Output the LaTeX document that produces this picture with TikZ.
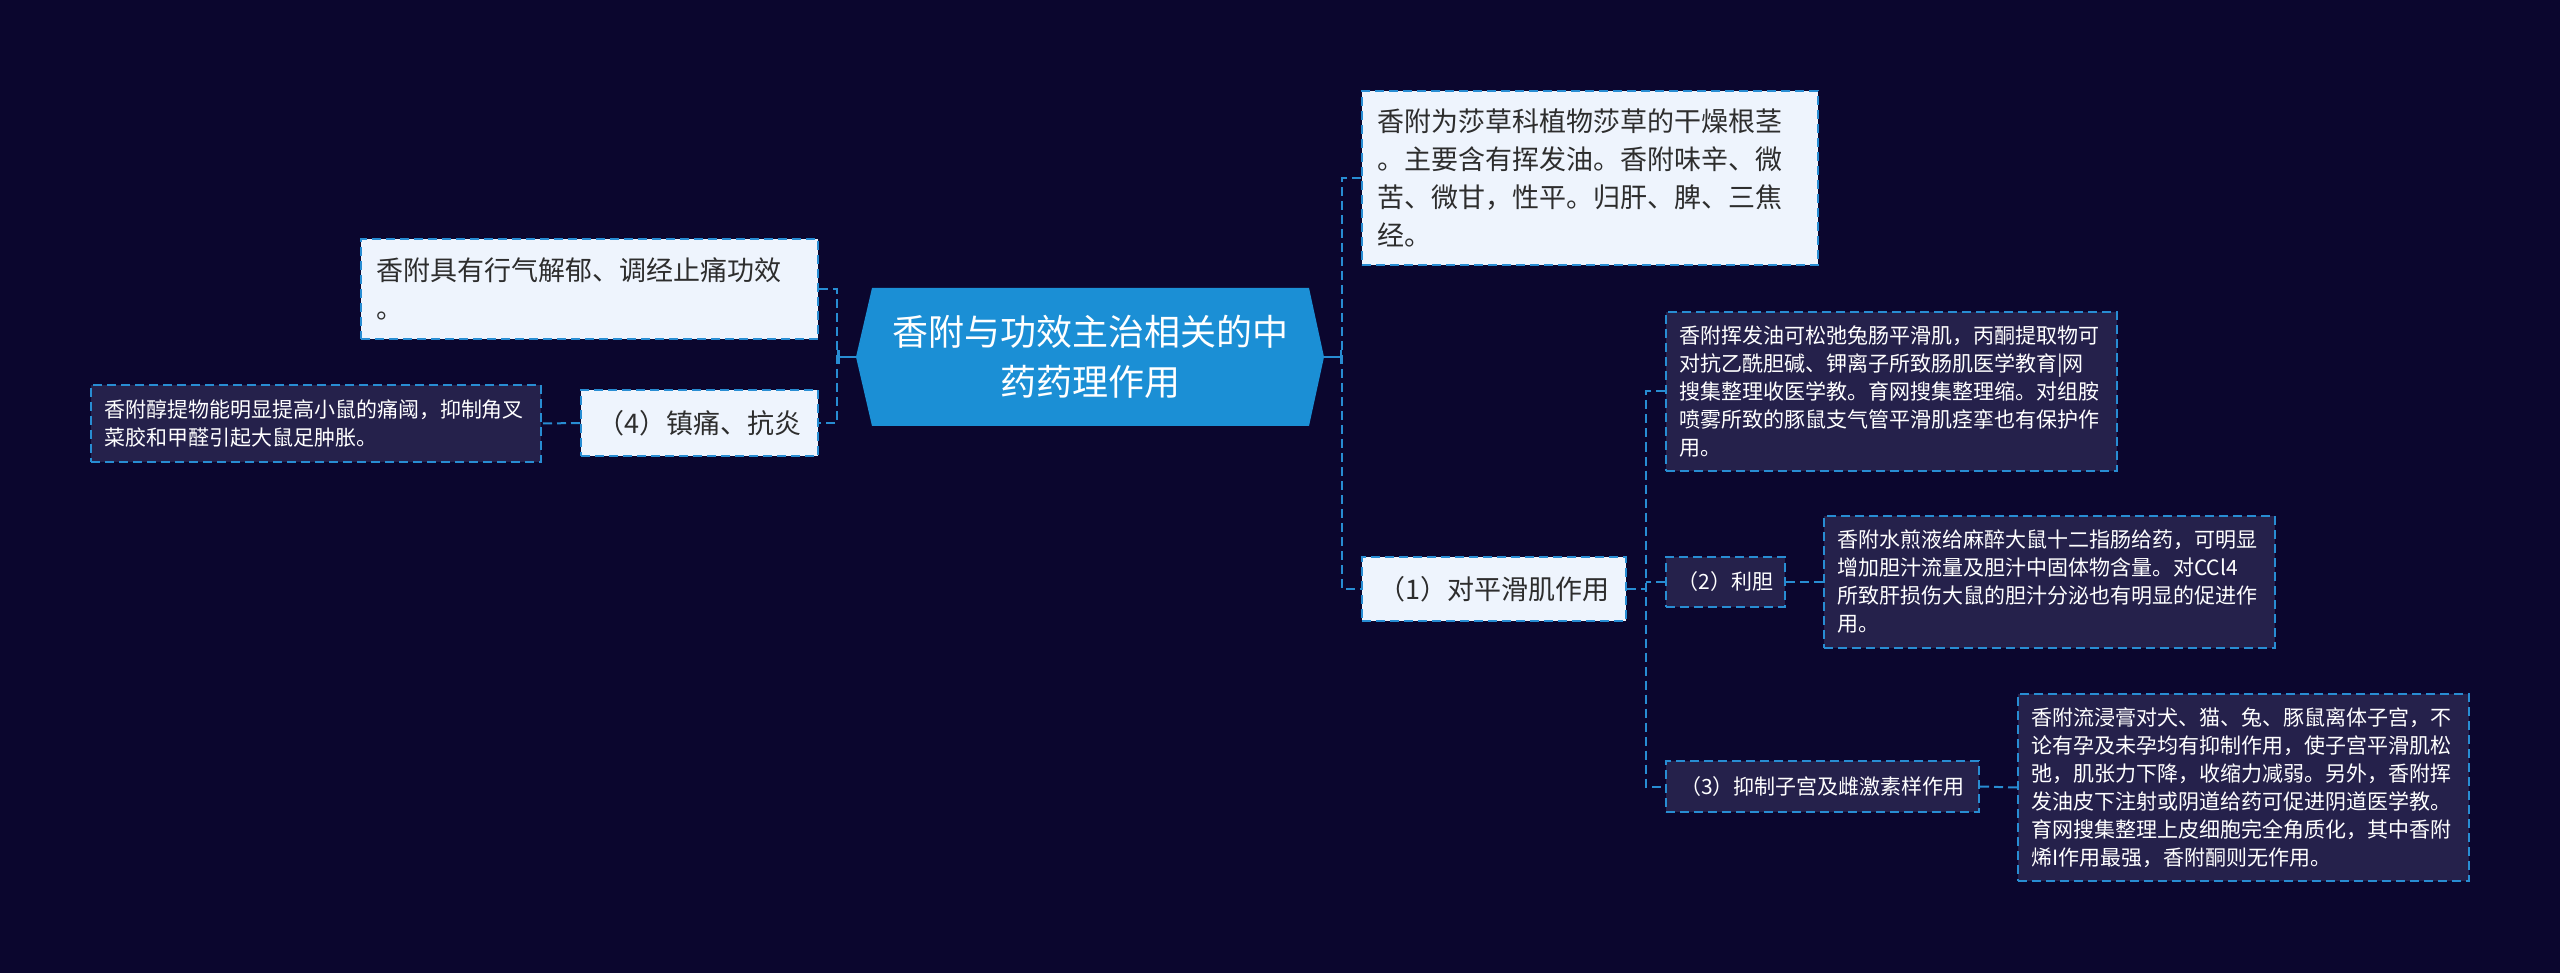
\documentclass[tikz,border=0pt]{standalone}
\usepackage{fontspec}
\setmainfont{Noto Sans CJK SC}
\usetikzlibrary{arrows.meta}
\definecolor{bgnavy}{RGB}{11,6,46}
\definecolor{rootblue}{RGB}{27,143,213}
\definecolor{edgeblue}{RGB}{40,141,211}
\definecolor{paleblue}{RGB}{238,244,253}
\definecolor{leafnavy}{RGB}{37,33,75}
\definecolor{inkgray}{RGB}{45,45,45}

\begin{document}
\begin{tikzpicture}[x=1pt,y=-1pt,
  box/.style={draw=edgeblue, line width=2pt, dash pattern=on 9pt off 5pt, inner sep=0pt},
  lightbox/.style={box, fill=paleblue, text=inkgray, font=\fontsize{27}{38}\selectfont},
  darkbox/.style={box, fill=leafnavy, text=white, font=\fontsize{21}{28}\selectfont},
  link/.style={edgeblue, line width=2pt, dash pattern=on 9pt off 5pt},
  stem/.style={edgeblue, line width=2.5pt, -{Bar[width=14pt,line width=2.5pt]}}]
% background, fixes the page size
\fill[bgnavy] (0,0) rectangle (2560,973);

% centre topic
\fill[rootblue] (856,357) -- (872,288) -- (1309,288) -- (1324,357) -- (1309,426) -- (872,426) -- cycle;
\node[text=white, font=\fontsize{36}{50}\selectfont, align=center, minimum width=468pt, minimum height=138pt, inner sep=0pt] (root) at (1090,357) {香附与功效主治相关的中\\药药理作用};

% left side
\node[lightbox, align=left, minimum width=457pt, minimum height=100pt, text width=427pt] (eff) at (589.5,289) {香附具有行气解郁、调经止痛功效\\。};
\node[lightbox, align=center, minimum width=237pt, minimum height=66pt] (n4) at (699.5,423) {（4）镇痛、抗炎};
\node[darkbox, align=left, minimum width=450pt, minimum height=77pt, text width=424pt] (leafL) at (316,423.5) {香附醇提物能明显提高小鼠的痛阈，抑制角叉\\菜胶和甲醛引起大鼠足肿胀。};

% right side
\node[lightbox, align=left, minimum width=456pt, minimum height=174pt, text width=426pt] (top) at (1590,178) {香附为莎草科植物莎草的干燥根茎\\。主要含有挥发油。香附味辛、微\\苦、微甘，性平。归肝、脾、三焦\\经。};
\node[lightbox, align=center, minimum width=264pt, minimum height=64pt] (n1) at (1494,589) {（1）对平滑肌作用};

\node[darkbox, align=left, minimum width=451pt, minimum height=159pt, text width=425pt] (leaf1) at (1891.5,391.5) {香附挥发油可松弛兔肠平滑肌，丙酮提取物可\\对抗乙酰胆碱、钾离子所致肠肌医学教育|网\\搜集整理收医学教。育网搜集整理缩。对组胺\\喷雾所致的豚鼠支气管平滑肌痉挛也有保护作\\用。};
\node[darkbox, align=center, minimum width=119pt, minimum height=50pt] (n2) at (1725.5,582) {（2）利胆};
\node[darkbox, align=left, minimum width=451pt, minimum height=132pt, text width=425pt] (leaf2) at (2049.5,582) {香附水煎液给麻醉大鼠十二指肠给药，可明显\\增加胆汁流量及胆汁中固体物含量。对CCl4\\所致肝损伤大鼠的胆汁分泌也有明显的促进作\\用。};
\node[darkbox, align=center, minimum width=313pt, minimum height=51pt] (n3) at (1822.5,786.5) {（3）抑制子宫及雌激素样作用};
\node[darkbox, align=left, minimum width=451pt, minimum height=187pt, text width=425pt] (leaf3) at (2243.5,787.5) {香附流浸膏对犬、猫、兔、豚鼠离体子宫，不\\论有孕及未孕均有抑制作用，使子宫平滑肌松\\弛，肌张力下降，收缩力减弱。另外，香附挥\\发油皮下注射或阴道给药可促进阴道医学教。\\育网搜集整理上皮细胞完全角质化，其中香附\\烯I作用最强，香附酮则无作用。};

% trunks
\coordinate (ltrunk) at (837,357);
\coordinate (rtrunk) at (1342,357);
\coordinate (strunk) at (1646,589);

\draw[stem] (root.west) -- (ltrunk);
\draw[stem] (root.east) -- (rtrunk);
\draw[link] (eff.east) -| (ltrunk) |- (n4.east);
\draw[link] (n4.west) -- (leafL.east);
\draw[link] (top.west) -| (rtrunk) |- (n1.west);
\draw[link] (n1.east) -- (strunk);
\draw[link] (leaf1.west) -| (strunk) |- (n3.west);
\draw[link] (n2.west) -- (n2.west -| strunk);
\draw[link] (n2.east) -- (leaf2.west);
\draw[link] (n3.east) -- (leaf3.west);
\end{tikzpicture}
\end{document}
